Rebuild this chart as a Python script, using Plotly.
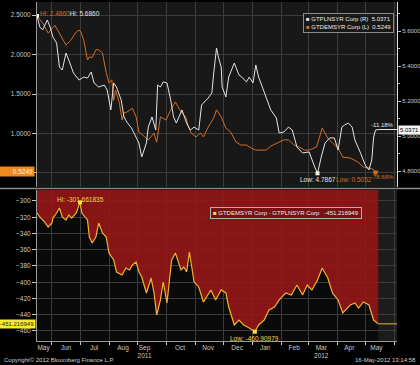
import plotly.graph_objects as go

# ---------------- data ----------------
pl_dates = ["2011-05-16","2011-05-19","2011-05-22","2011-05-27","2011-05-30","2011-06-02","2011-06-06","2011-06-09",
            "2011-06-12","2011-06-16","2011-06-19","2011-06-24","2011-06-30","2011-07-05","2011-07-09","2011-07-13",
            "2011-07-16","2011-07-21","2011-07-27","2011-07-30","2011-08-03","2011-08-06","2011-08-09","2011-08-14",
            "2011-08-17","2011-08-20","2011-08-25","2011-08-30","2011-09-02","2011-09-05","2011-09-10","2011-09-12",
            "2011-09-16","2011-09-20","2011-09-22","2011-09-25","2011-09-28","2011-10-02","2011-10-06","2011-10-09",
            "2011-10-12","2011-10-18","2011-10-23","2011-10-27","2011-10-31","2011-11-05","2011-11-08","2011-11-15",
            "2011-11-19","2011-11-21","2011-11-24","2011-11-26","2011-11-29","2011-11-30","2011-12-04","2011-12-07",
            "2011-12-13","2011-12-18","2011-12-21","2011-12-26","2011-12-29","2012-01-02","2012-01-05","2012-01-08",
            "2012-01-12","2012-01-16","2012-01-21","2012-01-27","2012-01-30","2012-02-04","2012-02-09","2012-02-13",
            "2012-02-18","2012-02-24","2012-03-02","2012-03-08","2012-03-11","2012-03-15","2012-03-19","2012-03-24",
            "2012-03-29","2012-04-02","2012-04-06","2012-04-09","2012-04-13","2012-04-17","2012-04-20","2012-04-26",
            "2012-05-01","2012-05-05","2012-05-08","2012-05-10","2012-05-12","2012-05-15"]
pl_values = [5.686,5.623,5.606,5.663,5.623,5.566,5.531,5.394,
             5.377,5.474,5.434,5.36,5.32,5.337,5.331,5.366,
             5.303,5.28,5.291,5.263,5.149,5.303,5.28,5.206,
             5.109,5.08,5.046,4.994,4.96,4.88,4.96,5.051,
             5.109,5.034,5.291,5.28,5.309,5.303,5.206,5.109,
             5.074,5.149,5.074,5.034,5.051,5.034,5.177,5.217,
             5.246,5.36,5.503,5.451,5.394,5.28,5.223,5.337,
             5.417,5.349,5.337,5.309,5.337,5.303,5.406,5.337,
             5.28,5.223,5.149,5.103,5.017,5.023,5.051,5.034,
             4.937,4.903,4.909,4.823,4.7867,4.88,4.96,4.989,
             4.989,4.92,5.051,5.063,5.074,5.051,4.977,4.903,
             4.834,4.806,4.863,4.994,5.034,5.0371]

de_dates = ["2011-05-16","2011-05-19","2011-05-22","2011-05-28","2011-06-01","2011-06-04","2011-06-07","2011-06-11",
            "2011-06-16","2011-06-21","2011-06-27","2011-06-30","2011-07-02","2011-07-05","2011-07-09","2011-07-11",
            "2011-07-14","2011-07-18","2011-07-21","2011-07-25","2011-07-27","2011-07-29","2011-08-01","2011-08-04",
            "2011-08-06","2011-08-08","2011-08-12","2011-08-15","2011-08-17","2011-08-20","2011-08-26","2011-08-30",
            "2011-09-02","2011-09-08","2011-09-12","2011-09-18","2011-09-21","2011-09-25","2011-10-01","2011-10-06",
            "2011-10-11","2011-10-14","2011-10-18","2011-10-22","2011-10-25","2011-10-28","2011-11-02","2011-11-07",
            "2011-11-10","2011-11-15","2011-11-21","2011-11-24","2011-11-29","2011-12-04","2011-12-09","2011-12-15",
            "2011-12-20","2011-12-26","2011-12-31","2012-01-05","2012-01-11","2012-01-16","2012-01-21","2012-01-30",
            "2012-02-04","2012-02-09","2012-02-15","2012-02-20","2012-02-26","2012-03-02","2012-03-10","2012-03-16",
            "2012-03-22","2012-03-27","2012-04-02","2012-04-07","2012-04-15","2012-04-23","2012-04-29","2012-05-05",
            "2012-05-09","2012-05-12","2012-05-15"]
de_values = [2.486,2.44,2.40,2.27,2.33,2.37,2.31,2.22,
             2.12,2.18,2.285,2.31,2.285,2.18,1.93,1.97,
             1.96,2.06,2.06,2.02,1.89,1.77,1.64,1.68,
             1.42,1.55,1.39,1.17,1.26,1.27,1.32,1.21,
             1.02,0.956,0.918,1.006,0.89,1.21,1.17,1.30,
             1.40,1.335,1.26,1.21,1.08,1.006,0.956,1.006,
             0.956,1.08,1.196,1.30,1.21,1.07,1.02,0.89,
             0.854,0.854,0.816,0.79,0.79,0.79,0.84,0.89,
             0.92,0.92,0.854,0.83,0.79,0.79,0.83,1.07,
             0.94,0.88,0.816,0.70,0.69,0.64,0.576,0.563,
             0.55,0.5052,0.5249]

spread_dates = ["2011-05-16","2011-05-19","2011-05-24","2011-05-28","2011-06-01","2011-06-02","2011-06-06","2011-06-09",
                "2011-06-12","2011-06-16","2011-06-19","2011-06-22","2011-06-27","2011-07-01","2011-07-03","2011-07-09",
                "2011-07-11","2011-07-14","2011-07-18","2011-07-21","2011-07-25","2011-07-29","2011-08-01","2011-08-06",
                "2011-08-09","2011-08-15","2011-08-19","2011-08-23","2011-08-26","2011-08-30","2011-09-02","2011-09-05",
                "2011-09-10","2011-09-15","2011-09-18","2011-09-21","2011-09-25","2011-09-28","2011-10-02","2011-10-07",
                "2011-10-11","2011-10-17","2011-10-20","2011-10-23","2011-10-26","2011-10-31","2011-11-05","2011-11-10",
                "2011-11-18","2011-11-23","2011-11-29","2011-12-04","2011-12-07","2011-12-13","2011-12-18","2011-12-23",
                "2011-12-29","2012-01-04","2012-01-08","2012-01-14","2012-01-19","2012-01-25","2012-01-30","2012-02-06",
                "2012-02-12","2012-02-18","2012-02-24","2012-02-29","2012-03-05","2012-03-11","2012-03-16","2012-03-22",
                "2012-03-27","2012-04-02","2012-04-07","2012-04-15","2012-04-20","2012-04-24","2012-04-29","2012-05-05",
                "2012-05-10","2012-05-15"]
spread_values = [-314.8,-319.7,-325.8,-332.0,-327.0,-321.0,-314.8,-308.6,
                 -319.7,-323.4,-317.2,-321.0,-314.8,-301.661835,-314.8,-323.4,
                 -344.3,-351.7,-344.3,-327.1,-339.4,-344.3,-364.0,-372.6,
                 -387.4,-391.1,-382.5,-384.9,-378.8,-375.1,-387.4,-393.5,
                 -413.2,-394.8,-412.0,-440.3,-421.8,-399.7,-425.5,-372.6,
                 -364.0,-384.9,-381.2,-387.4,-362.8,-399.7,-405.8,-424.3,
                 -409.5,-421.8,-409.5,-413.2,-430.5,-452.6,-446.5,-452.6,
                 -456.3,-460.90979,-452.6,-446.5,-434.2,-430.5,-421.8,-413.2,
                 -415.7,-403.4,-415.7,-403.4,-409.5,-397.2,-382.5,-394.8,
                 -413.2,-421.8,-437.8,-428.0,-425.5,-431.7,-424.3,-428.0,
                 -446.5,-451.216949]

month_starts = ["2011-06-01","2011-07-01","2011-08-01","2011-09-01","2011-10-01","2011-11-01","2011-12-01",
                "2012-01-01","2012-02-01","2012-03-01","2012-04-01","2012-05-01","2012-06-01"]
month_label_dates = ["2011-05-23","2011-06-16","2011-07-16","2011-08-16","2011-09-08","2011-10-16","2011-11-15",
                     "2011-12-16","2012-01-15","2012-02-15","2012-03-15","2012-04-14","2012-05-13"]
month_labels = ["May","Jun","Jul","Aug","Sep<br>2011","Oct","Nov","Dec","Jan","Feb","Mar<br>2012","Apr","May"]

left_ticks = [0.5, 1.0, 1.5, 2.0, 2.5]
left_ticktext = ["", "1.0000", "1.5000", "2.0000", "2.5000"]
right_ticks = [4.8, 5.0, 5.2, 5.4, 5.6]
right_minor = [4.9, 5.1, 5.3, 5.5, 5.7]
spread_ticks = [-460, -440, -420, -400, -380, -360, -340, -320, -300]

pl_name = "GTPLNSYR Corp (R)"
de_name = "GTDEMSYR Corp (L)"
spread_name = "GTDEMSYR Corp - GTPLNSYR Corp"
pct_labels = ["-11.18%", "-78.68%"]
footer_left = "Copyright\u00a9 2012 Bloomberg Finance L.P."
footer_right = "16-May-2012 13:14:58"

# ---------------- style ----------------
PL_COLOR = "#e4e4e4"
DE_COLOR = "#d06e24"
SP_COLOR = "#f0b232"
RED_FILL = "rgba(150,22,22,0.9)"
GRID = "#3c3c3c"
AX = "#c8c8c8"
FONT = "Liberation Sans, Arial, sans-serif"

x_range = ["2011-05-16", "2012-06-04"]
y_left_range = [0.3228, 2.6646]
y_right_range = [4.7086, 5.7657]
y_spread_range = [-472.3, -286.5]

fig = go.Figure()

fig.add_trace(go.Scatter(x=de_dates, y=de_values, xaxis="x", yaxis="y", mode="lines",
                         line=dict(color=DE_COLOR, width=1)))
fig.add_trace(go.Scatter(x=pl_dates, y=pl_values, xaxis="x", yaxis="y2", mode="lines",
                         line=dict(color=PL_COLOR, width=1)))

# bottom panel: red area above spread line
fig.add_trace(go.Scatter(x=spread_dates, y=spread_values, xaxis="x2", yaxis="y3", mode="lines",
                         line=dict(width=0), hoverinfo="skip"))
fig.add_trace(go.Scatter(x=spread_dates, y=[y_spread_range[1] + 10] * len(spread_dates), xaxis="x2", yaxis="y3",
                         mode="lines", line=dict(width=0), fill="tonexty", fillcolor=RED_FILL, hoverinfo="skip"))
fig.add_trace(go.Scatter(x=spread_dates, y=spread_values, xaxis="x2", yaxis="y3", mode="lines",
                         line=dict(color=SP_COLOR, width=1.2)))
fig.add_trace(go.Scatter(x=[spread_dates[-1], x_range[1]], y=[spread_values[-1]] * 2, xaxis="x2", yaxis="y3",
                         mode="lines", line=dict(color=SP_COLOR, width=1)))

def idx_max(v):
    return max(range(len(v)), key=lambda i: v[i])

def idx_min(v):
    return min(range(len(v)), key=lambda i: v[i])

de_hi, de_lo = idx_max(de_values), idx_min(de_values)
pl_hi, pl_lo = idx_max(pl_values), idx_min(pl_values)
sp_hi, sp_lo = idx_max(spread_values), idx_min(spread_values)

fig.add_trace(go.Scatter(x=[de_dates[de_hi], de_dates[de_lo]], y=[de_values[de_hi], de_values[de_lo]],
                         xaxis="x", yaxis="y", mode="markers",
                         marker=dict(symbol="square", size=4, color=DE_COLOR)))
fig.add_trace(go.Scatter(x=[pl_dates[pl_hi], pl_dates[pl_lo]], y=[pl_values[pl_hi], pl_values[pl_lo]],
                         xaxis="x", yaxis="y2", mode="markers",
                         marker=dict(symbol="square", size=4, color="#f4f0e0")))
fig.add_trace(go.Scatter(x=[spread_dates[sp_hi], spread_dates[sp_lo]],
                         y=[spread_values[sp_hi], spread_values[sp_lo]],
                         xaxis="x2", yaxis="y3", mode="markers",
                         marker=dict(symbol="square", size=4, color="#ffe23a")))

fig.update_layout(
    width=420, height=365,
    margin=dict(l=37, r=23, t=2, b=24),
    paper_bgcolor="#000000", plot_bgcolor="#0a0a0a",
    showlegend=False,
    font=dict(family=FONT, size=6.5, color=AX),
    xaxis=dict(domain=[0, 1], anchor="y", range=x_range, type="date", tickvals=month_starts,
               showticklabels=False, ticks="", showgrid=True, gridcolor=GRID, gridwidth=1,
               zeroline=False, showline=False, automargin=False),
    yaxis=dict(domain=[0.4543, 1], anchor="x", range=y_left_range, tickvals=left_ticks, ticktext=left_ticktext,
               ticks="outside", ticklen=4, tickcolor=AX, showgrid=True, gridcolor=GRID, zeroline=False,
               showline=True, linecolor="#9a9a9a", automargin=False),
    yaxis2=dict(overlaying="y", side="right", anchor="x", range=y_right_range, tickvals=right_ticks,
                ticktext=[f"{v:.4f}" for v in right_ticks], ticks="outside", ticklen=3, tickcolor=AX,
                tickfont=dict(size=6), showgrid=False, zeroline=False, showline=True, linecolor="#dddddd",
                automargin=False,
                minor=dict(tickvals=right_minor, ticks="outside", ticklen=2, tickcolor=AX, showgrid=False)),
    xaxis2=dict(domain=[0, 1], anchor="y3", range=x_range, type="date", matches="x",
                tickvals=month_label_dates, ticktext=month_labels, ticks="", showgrid=False,
                automargin=False, zeroline=False, showline=True, linecolor="#9a9a9a",
                minor=dict(tickvals=month_starts, ticks="outside", ticklen=3, tickcolor=AX,
                           showgrid=True, gridcolor=GRID)),
    yaxis3=dict(domain=[0, 0.4454], anchor="x2", range=y_spread_range, tickvals=spread_ticks,
                ticks="outside", ticklen=4, tickcolor=AX, showgrid=True, gridcolor=GRID, zeroline=False,
                showline=True, linecolor="#9a9a9a", automargin=False),
)

shapes = [
    dict(type="rect", xref="x domain", yref="y domain", x0=0, x1=1, y0=0, y1=1,
         fillcolor="#181818", line=dict(width=0), layer="below"),
    dict(type="rect", xref="x2", yref="y3 domain", x0=spread_dates[-1], x1=x_range[1], y0=0, y1=1,
         fillcolor="#1c1c1c", line=dict(width=0), layer="below"),
    dict(type="line", xref="paper", yref="paper", x0=-0.11, x1=1.07, y0=0.4499, y1=0.4499,
         line=dict(color="#8a8a8a", width=1.5)),
    dict(type="line", xref="x", yref="y2", x0=pl_dates[-1], x1=x_range[1], y0=pl_values[-1], y1=pl_values[-1],
         line=dict(color=PL_COLOR, width=1)),
]
fig.update_layout(shapes=shapes)

ann = []
ann.append(dict(xref="x", yref="y", x=de_dates[de_hi], y=de_values[de_hi], xanchor="left", yanchor="middle",
                xshift=1, yshift=3, showarrow=False,
                text=f"<span style='color:{DE_COLOR}'>Hi: {de_values[de_hi]:.4f}</span>"
                     f"<span style='color:{PL_COLOR}'>Hi: {pl_values[pl_hi]:.4f}</span>"))
ann.append(dict(xref="x", yref="y2", x=pl_dates[pl_lo], y=pl_values[pl_lo], xanchor="center", yanchor="top",
                yshift=-1, showarrow=False, text=f"Low: {pl_values[pl_lo]:.4f}", font=dict(color=PL_COLOR)))
ann.append(dict(xref="x", yref="y", x=de_dates[de_lo], y=de_values[de_lo], xanchor="right", yanchor="top",
                xshift=-1, yshift=-1, showarrow=False, text=f"Low: {de_values[de_lo]:.4f}",
                font=dict(color=DE_COLOR)))
ann.append(dict(xref="paper", yref="y2", x=1, y=pl_values[-1], xanchor="right", yanchor="bottom",
                xshift=-1, yshift=0, showarrow=False, text=pct_labels[0], font=dict(color=PL_COLOR, size=6)))
ann.append(dict(xref="paper", yref="y", x=1, y=de_values[-1], xanchor="right", yanchor="top",
                xshift=-1, yshift=-1, showarrow=False, text=pct_labels[1], font=dict(color=DE_COLOR, size=6)))
# last value boxes
ann.append(dict(xref="paper", yref="y2", x=1, y=pl_values[-1], xanchor="left", yanchor="middle", xshift=1,
                showarrow=False, text=f"{pl_values[-1]:.4f}", bgcolor="#f2f2f2", borderpad=1,
                font=dict(color="#000000", size=6)))
ann.append(dict(xref="paper", yref="y", x=0, y=de_values[-1], xanchor="right", yanchor="middle", xshift=-2,
                showarrow=False, text=f"{de_values[-1]:.4f}", bgcolor="#f08a1e", borderpad=1, width=32,
                align="right", font=dict(color="#fff2e0", size=6.5)))
ann.append(dict(xref="paper", yref="y3", x=0, y=spread_values[-1], xanchor="right", yanchor="middle", xshift=-1,
                showarrow=False, text=str(spread_values[-1]), bgcolor="#f4ea2a", borderpad=1, width=34,
                align="center", font=dict(color="#222222", size=6)))
# legends
ann.append(dict(xref="paper", yref="paper", x=0.739, y=0.9395, xanchor="left", yanchor="middle",
                showarrow=False, align="left", bgcolor="rgba(25,25,25,0.85)", bordercolor="#8a8a8a",
                borderwidth=1, borderpad=2, font=dict(color="#eeeeee", size=6),
                text=f"<span style='color:{PL_COLOR}'>\u25a0</span> {pl_name}\u00a0\u00a0{pl_values[-1]:.4f}<br>"
                     f"<span style='color:{DE_COLOR}'>\u25a0</span> {de_name}\u00a0\u00a0{de_values[-1]:.4f}"))
ann.append(dict(xref="paper", yref="paper", x=0.4806, y=0.3776, xanchor="left", yanchor="middle",
                showarrow=False, align="left", bgcolor="rgba(110,15,15,0.6)", bordercolor="#b0b0b0",
                borderwidth=1, borderpad=2, font=dict(color="#eeeeee", size=6),
                text=f"<span style='color:#ffe23a'>\u25a0</span> {spread_name}\u00a0\u00a0\u00a0{spread_values[-1]}"))
# spread hi/low
ann.append(dict(xref="x2", yref="y3", x=spread_dates[sp_hi], y=spread_values[sp_hi], xanchor="center",
                yanchor="middle", yshift=3, showarrow=False, text=f"Hi: {spread_values[sp_hi]}",
                font=dict(color="#f2d64a")))
ann.append(dict(xref="x2", yref="y3", x=spread_dates[sp_lo], y=spread_values[sp_lo], xanchor="center",
                yanchor="top", yshift=-1, showarrow=False, text=f"Low: {spread_values[sp_lo]}",
                font=dict(color="#f2d64a")))
# footer
ann.append(dict(xref="paper", yref="paper", x=-0.097, y=-0.056, xanchor="left", yanchor="middle",
                showarrow=False, text=footer_left, font=dict(color="#cfcfcf", size=6)))
ann.append(dict(xref="paper", yref="paper", x=1.058, y=-0.056, xanchor="right", yanchor="middle",
                showarrow=False, text=footer_right, font=dict(color="#cfcfcf", size=6)))
fig.update_layout(annotations=ann)

fig.write_html("out.html", config={"displayModeBar": False},
               post_script="document.body.style.margin='0';document.body.style.padding='0';"
                           "document.body.style.background='#000';")
